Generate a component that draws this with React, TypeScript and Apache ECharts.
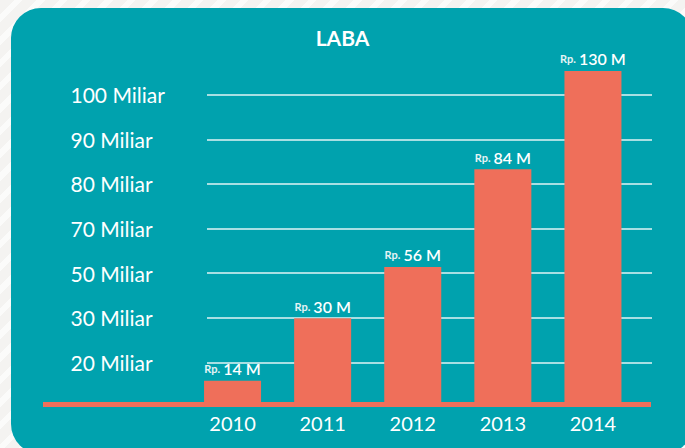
import React, { useEffect, useRef } from "react";
import * as echarts from "echarts";

const years = ["2010", "2011", "2012", "2013", "2014"];
// bar heights read in axis-step units (one step per gridline)
const barHeights = [0.59, 1.99, 3.14, 5.33, 7.53];
const barLabels = ["14 M", "30 M", "56 M", "84 M", "130 M"];
const yTickLabels = ["", "20 Miliar", "30 Miliar", "50 Miliar", "70 Miliar", "80 Miliar", "90 Miliar", "100 Miliar", ""];

const TEAL = "#00a2ae";
const BAR = "#ef6f5a";
const FONT = "Lato";

export default function App() {
  const ref = useRef<HTMLDivElement>(null);
  useEffect(() => {
    if (!ref.current) return;
    const chart = echarts.init(ref.current, undefined, { renderer: "svg" });
    const gridLineColors = yTickLabels.map((t) => (t ? "rgba(255,255,255,0.88)" : "rgba(0,0,0,0)"));
    chart.setOption({
      animation: false,
      backgroundColor: "transparent",
      textStyle: { fontFamily: FONT },
      title: {
        text: "LABA",
        left: "center",
        top: 22,
        textStyle: { color: "#ffffff", fontSize: 21, fontWeight: "bold", fontFamily: FONT },
      },
      graphic: [
        {
          type: "rect",
          z: -10,
          silent: true,
          shape: { x: 11, y: 8, width: 682, height: 446, r: 30 },
          style: { fill: TEAL },
        },
        {
          type: "rect",
          z: 1,
          silent: true,
          shape: { x: 43, y: 402, width: 608, height: 5 },
          style: { fill: BAR },
        },
      ],
      grid: [
        { left: 187.5, right: 47, top: 50, bottom: 41 },
        { left: 207, right: 33, top: 50, bottom: 41 },
      ],
      xAxis: [
        {
          type: "category",
          gridIndex: 0,
          data: years,
          axisLine: { show: false },
          axisTick: { show: false },
          axisLabel: { color: "#ffffff", fontSize: 20, fontFamily: FONT, margin: 6 },
        },
        { type: "value", gridIndex: 1, show: false },
      ],
      yAxis: [
        {
          type: "value",
          gridIndex: 0,
          min: 0,
          max: 8,
          interval: 1,
          axisLine: { show: false },
          axisTick: { show: false },
          splitLine: { show: false },
          axisLabel: {
            color: "#ffffff",
            fontSize: 21,
            fontFamily: FONT,
            align: "left",
            margin: 117,
            padding: [0, 0, 4, 0],
            formatter: (v: number) => yTickLabels[Math.round(v)] || "",
          },
        },
        {
          type: "value",
          gridIndex: 1,
          min: 0,
          max: 8,
          interval: 1,
          axisLine: { show: false },
          axisTick: { show: false },
          axisLabel: { show: false },
          splitLine: { show: true, lineStyle: { color: gridLineColors, width: 1.5 } },
        },
      ],
      series: [
        {
          type: "bar",
          xAxisIndex: 0,
          yAxisIndex: 0,
          data: barHeights,
          barWidth: 57,
          z: 3,
          itemStyle: { color: BAR },
          label: {
            show: true,
            position: "top",
            distance: 4,
            color: "#ffffff",
            fontFamily: FONT,
            formatter: (p: any) => "{rp|Rp.} {v|" + barLabels[p.dataIndex] + "}",
            rich: {
              rp: { fontSize: 11, fontWeight: "bold", color: "#e6f4f5", fontFamily: FONT },
              v: { fontSize: 16, fontWeight: 600, color: "#ffffff", fontFamily: FONT },
            },
          },
        },
      ],
    });
    return () => chart.dispose();
  }, []);
  return (
    <div
      style={{
        position: "fixed",
        left: 0,
        top: 0,
        width: 685,
        height: 448,
        background:
          "repeating-linear-gradient(135deg, #f4f3f1 0px, #f4f3f1 10px, #fbfbfa 10px, #fbfbfa 16px)",
      }}
    >
      <div ref={ref} style={{ width: 685, height: 448 }} />
    </div>
  );
}
